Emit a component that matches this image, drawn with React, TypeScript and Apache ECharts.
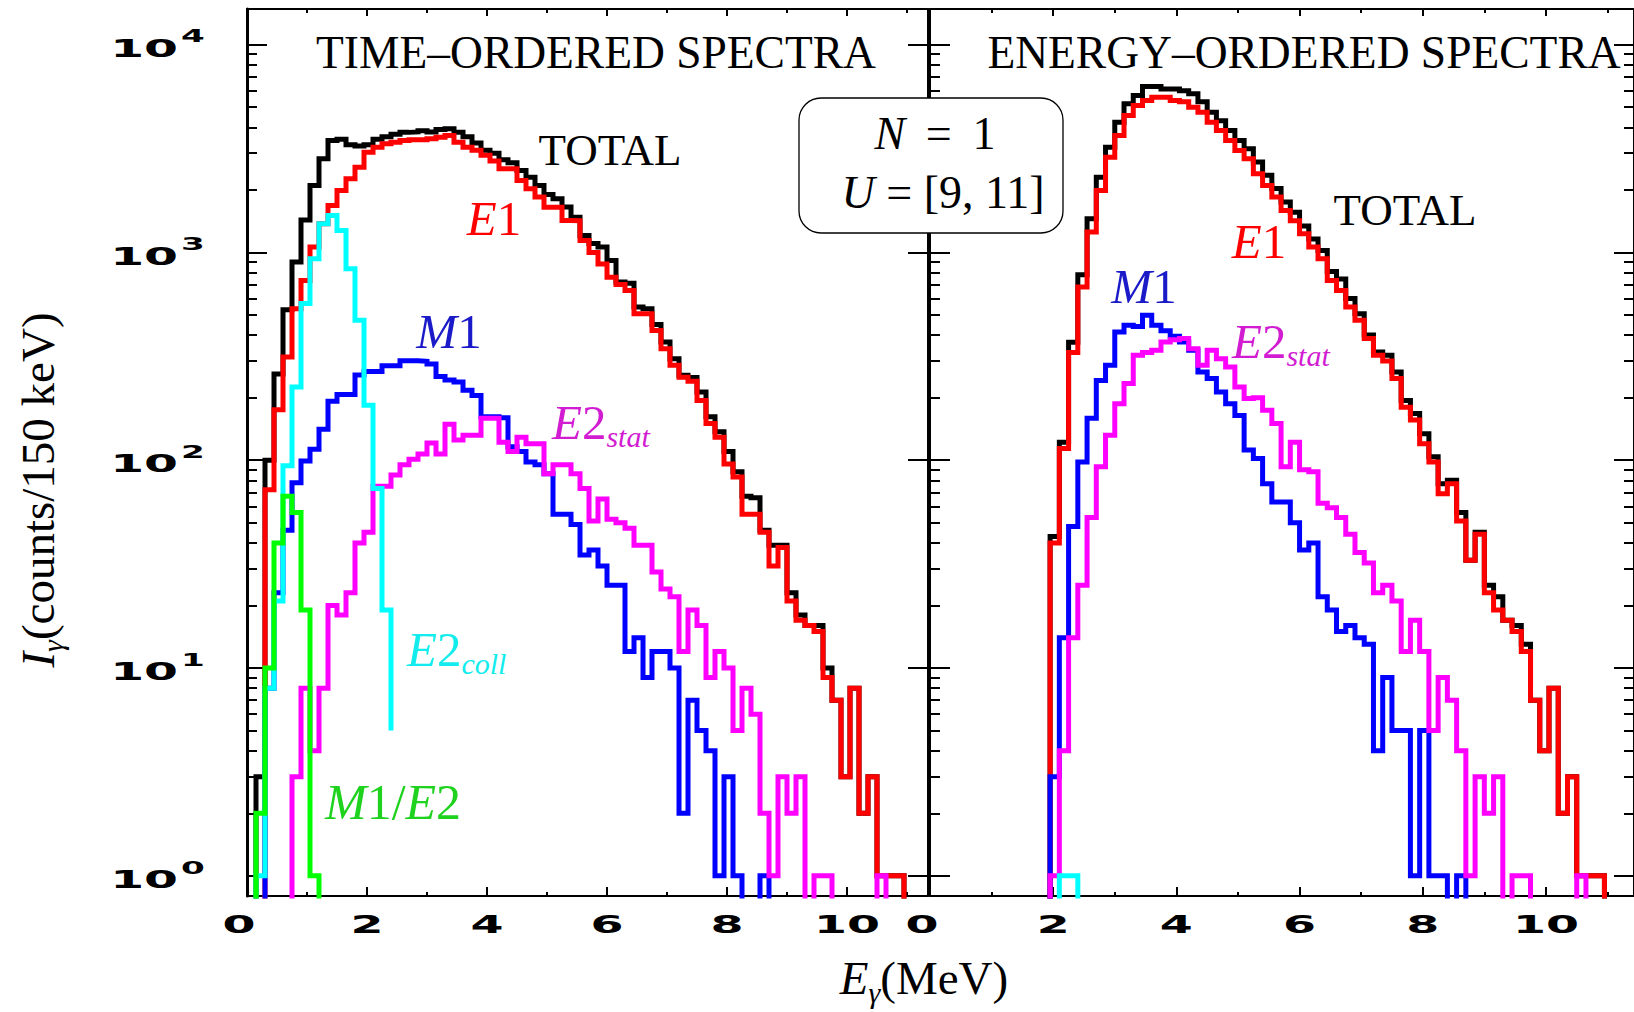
import React, { useEffect, useRef } from 'react';
import * as echarts from 'echarts';

// ---------- data (counts per 150 keV bin, bins start at 0 MeV) ----------
const BIN = 0.15;

const leftTotal = [0, 3, 100, 260, 530, 900, 1430, 2100, 2820, 3450, 3500, 3300, 3250, 3300, 3500, 3600, 3700, 3780, 3800, 3850, 3800, 3900, 3935, 3785, 3600, 3356, 3100, 3000, 2790, 2700, 2480, 2300, 2100, 1900, 1812, 1652, 1478, 1207, 1102, 1061, 915, 720, 710, 546, 536, 450, 371, 308, 256, 250, 213, 162, 137, 110, 88, 67, 66, 46, 39, 39, 23, 18, 16, 16, 10, 7, 3, 8, 2, 3, 1, 1, 1];
const leftE1 = [0, 0, 72, 175, 314, 536, 733, 1061, 1374, 1683, 1986, 2260, 2570, 3035, 3210, 3330, 3390, 3450, 3480, 3480, 3520, 3580, 3650, 3390, 3210, 3100, 2930, 2750, 2525, 2525, 2218, 2025, 1845, 1650, 1650, 1425, 1420, 1142, 1000, 880, 760, 700, 656, 507, 507, 421, 344, 286, 251, 240, 194, 150, 129, 96, 83, 55, 55, 45, 31, 38, 21, 17, 16, 15, 9, 7, 3, 8, 2, 3, 1, 1, 1];
const leftM1 = [0, 0, 8, 23, 46, 78, 99, 113, 141, 192, 207, 207, 257, 267, 267, 285, 285, 301, 301, 299, 290, 253, 243, 238, 217, 205, 162, 162, 160, 116, 110, 98, 95, 86, 55, 55, 49, 35, 37, 31, 25, 25, 12, 14, 9, 12, 12, 10, 2, 7, 5, 4, 1, 3, 1, 0, 0, 1];
const leftE2stat = [0, 0, 0, 0, 0, 3, 8, 4, 8, 20, 18, 23, 40, 45, 75, 75, 85, 95, 101, 107, 121, 107, 149, 125, 132, 132, 159, 159, 122, 110, 129, 120, 120, 86, 95, 95, 86, 73, 51, 65, 52, 50, 47, 39, 39, 29, 24, 22, 12, 19, 16, 9, 12, 10, 5, 8, 6, 2, 1, 3, 2, 3, 0, 1, 1, 0, 0, 0, 0, 0, 1];
const leftE2coll = [0, 1, 8, 21, 94, 225, 567, 933, 1374, 1506, 1276, 835, 471, 184, 73, 19];
const leftE2collEnd = 5;
const leftM1E2 = [0, 2, 10, 40, 67, 56, 19, 1];

const rightTotal = [0, 0, 0, 0, 0, 0, 0, 0, 0, 0, 0, 0, 0, 43, 122, 370, 780, 1452, 2300, 3209, 4230, 5190, 5690, 6280, 6280, 6120, 6120, 6000, 5800, 5300, 4720, 4300, 3860, 3455, 3150, 2720, 2350, 2030, 1750, 1560, 1340, 1160, 1020, 810, 745, 600, 506, 400, 332, 320, 266, 194, 168, 134, 104, 77, 80, 56, 33, 45, 25, 22, 17, 16, 13, 7, 4, 8, 2, 3, 1, 1, 1];
const rightE1 = [0, 0, 0, 0, 0, 0, 0, 0, 0, 0, 0, 0, 0, 40, 114, 330, 681, 1253, 1986, 2871, 3650, 4560, 5090, 5380, 5580, 5580, 5380, 5300, 4995, 4720, 4230, 3860, 3455, 3090, 2820, 2390, 2100, 1845, 1592, 1420, 1230, 1061, 933, 733, 656, 546, 471, 385, 320, 300, 247, 180, 156, 120, 98, 69, 77, 51, 33, 44, 23, 19, 17, 15, 12, 7, 4, 8, 2, 3, 1, 1, 1];
const rightM1 = [0, 0, 0, 0, 0, 0, 0, 0, 0, 0, 0, 0, 0, 3, 14, 48, 98, 159, 242, 286, 414, 446, 440, 498, 446, 420, 395, 371, 338, 266, 247, 213, 187, 164, 112, 102, 77, 63, 63, 50, 37, 40, 22, 19, 15, 16, 14, 13, 4, 9, 5, 5, 1, 5, 1, 1, 0, 1];
const rightE2stat = [0, 0, 0, 0, 0, 0, 0, 0, 0, 0, 0, 0, 0, 1, 4, 14, 25, 53, 93, 132, 187, 234, 320, 330, 338, 371, 380, 385, 344, 286, 338, 308, 281, 225, 198, 200, 174, 150, 93, 122, 90, 88, 62, 59, 53, 44, 36, 32, 23, 25, 21, 12, 17, 12, 5, 9, 7, 4, 1, 3, 2, 3, 0, 1, 1, 0, 0, 0, 0, 0, 1];
const rightE2coll = [0, 0, 0, 0, 0, 0, 0, 0, 0, 0, 0, 0, 0, 0, 1, 1];

const xMajor = [0, 2, 4, 6, 8, 10];
const xMinor = [1, 3, 5, 7, 9, 11];
const yMajor = [1, 10, 100, 1000, 10000];
const yMajorExp = ['0', '1', '2', '3', '4'];
const yMinor = [2, 3, 4, 5, 6, 7, 8, 9, 20, 30, 40, 50, 60, 70, 80, 90, 200, 300, 400, 500, 600, 700, 800, 900, 2000, 3000, 4000, 5000, 6000, 7000, 8000, 9000];

const Y_MIN = 0.8;
const Y_MAX = 14830;
const LEFT_XMAX = 11.35;
const RIGHT_XMAX = 11.43;

const C = {
  total: '#000000',
  e1: '#ff0000',
  m1: '#0000ff',
  e2stat: '#ff00ff',
  e2coll: '#00ffff',
  m1e2: '#00ff00',
};
const LBL = {
  m1: '#1a1ac8',
  e2stat: '#d21cd2',
  e2coll: '#12ecec',
  m1e2: '#1ed21e',
};

const SERIF = '"Liberation Serif", "Times New Roman", serif';
const SANS = '"DejaVu Sans", sans-serif';

function hist(values: number[], endValue?: number) {
  const FLOOR = 0.05;
  const pts: number[][] = values.map((v, i) => [+(i * BIN).toFixed(3), v > 0 ? v : FLOOR]);
  pts.push([+(values.length * BIN).toFixed(3), endValue && endValue > 0 ? endValue : FLOOR]);
  return pts;
}

function lineSeries(name: string, data: number[], color: string, panel: number, z: number, endValue?: number) {
  return {
    name,
    type: 'line',
    xAxisIndex: panel === 0 ? 0 : 4,
    yAxisIndex: panel === 0 ? 0 : 3,
    data: hist(data, endValue),
    step: 'end',
    showSymbol: false,
    symbol: 'none',
    silent: true,
    z,
    lineStyle: { color, width: 5, join: 'miter', cap: 'butt' },
    itemStyle: { color },
  };
}

function rich(color: string, size = 46) {
  return {
    i: { fontFamily: SERIF, fontStyle: 'italic', fontSize: size, lineHeight: 58, fill: color, color },
    n: { fontFamily: SERIF, fontSize: size, lineHeight: 58, fill: color, color },
    s: { fontFamily: SERIF, fontStyle: 'italic', fontSize: 30, lineHeight: 14, verticalAlign: 'bottom', fill: color, color },
  };
}

function label(text: string, x: number, y: number, color: string, align = 'center', rotation = 0, size = 46) {
  return {
    type: 'text',
    x,
    y,
    rotation,
    z: 110,
    silent: true,
    style: {
      text,
      rich: rich(color, size),
      fill: color,
      align,
      verticalAlign: 'middle',
      textAlign: align,
      textVerticalAlign: 'middle',
    },
  };
}

function xAxisDef(grid: number, max: number, position: string, ticks: number[], len: number, line: boolean) {
  return {
    type: 'value',
    gridIndex: grid,
    position,
    min: 0,
    max,
    axisLine: { show: line, onZero: false, lineStyle: { color: '#000', width: 2 } },
    axisTick: { show: true, inside: true, length: len, customValues: ticks, lineStyle: { color: '#000', width: 2 } },
    axisLabel: { show: false },
    splitLine: { show: false },
  };
}

function yAxisDef(grid: number, position: string, ticks: number[], len: number, line: boolean, lw = 2) {
  return {
    type: 'log',
    logBase: 10,
    gridIndex: grid,
    position,
    min: Y_MIN,
    max: Y_MAX,
    axisLine: { show: line, onZero: false, lineStyle: { color: '#000', width: lw } },
    axisTick: { show: true, inside: true, length: len, customValues: ticks, lineStyle: { color: '#000', width: 2 } },
    axisLabel: { show: false },
    splitLine: { show: false },
  };
}

export default function App() {
  const ref = useRef<HTMLDivElement>(null);

  useEffect(() => {
    if (!ref.current) return;
    const chart = echarts.init(ref.current, null, { renderer: 'svg' });
    const option: any = {
      animation: false,
      backgroundColor: '#ffffff',
      grid: [
        { left: 247, top: 9, width: 681, height: 887 },
        { left: 930, top: 9, width: 717, height: 887 },
      ],
      xAxis: [
        xAxisDef(0, LEFT_XMAX, 'bottom', xMajor, 9, true),
        xAxisDef(0, LEFT_XMAX, 'bottom', xMinor, 4, false),
        xAxisDef(0, LEFT_XMAX, 'top', xMajor, 7, true),
        xAxisDef(0, LEFT_XMAX, 'top', xMinor, 4, false),
        xAxisDef(1, RIGHT_XMAX, 'bottom', xMajor, 9, true),
        xAxisDef(1, RIGHT_XMAX, 'bottom', xMinor, 4, false),
        xAxisDef(1, RIGHT_XMAX, 'top', xMajor, 7, true),
        xAxisDef(1, RIGHT_XMAX, 'top', xMinor, 4, false),
      ],
      yAxis: [
        yAxisDef(0, 'left', yMajor, 20, true, 3),
        yAxisDef(0, 'left', yMinor, 10, false),
        yAxisDef(0, 'right', yMajor, 20, true),
        yAxisDef(1, 'left', yMajor, 20, true),
        yAxisDef(1, 'left', yMinor, 10, false),
        yAxisDef(1, 'right', yMajor, 20, true),
        yAxisDef(1, 'right', yMinor, 10, false),
      ],
      series: [
        lineSeries('TOTAL', leftTotal, C.total, 0, 2),
        lineSeries('E1', leftE1, C.e1, 0, 3),
        lineSeries('M1', leftM1, C.m1, 0, 4),
        lineSeries('E2stat', leftE2stat, C.e2stat, 0, 5),
        lineSeries('E2coll', leftE2coll, C.e2coll, 0, 6, leftE2collEnd),
        lineSeries('M1/E2', leftM1E2, C.m1e2, 0, 7),
        lineSeries('TOTAL ', rightTotal, C.total, 1, 2),
        lineSeries('E1 ', rightE1, C.e1, 1, 3),
        lineSeries('M1 ', rightM1, C.m1, 1, 4),
        lineSeries('E2stat ', rightE2stat, C.e2stat, 1, 5),
        lineSeries('E2coll ', rightE2coll, C.e2coll, 1, 6),
      ],
    };
    chart.setOption(option);

    const gfx: any[] = [];
    // x tick labels (wide font look)
    [0, 4].forEach((ax) => {
      xMajor.forEach((v) => {
        const px = (chart.convertToPixel({ xAxisIndex: ax }, v) as number) + (v === 0 ? -8 : 0);
        gfx.push({
          type: 'text', x: px, y: 924, scaleX: 1.9, z: 110, silent: true,
          style: { text: String(v), fontFamily: SANS, fontWeight: 'bold', fontSize: 25, fill: '#000', align: 'center', verticalAlign: 'middle', textAlign: 'center', textVerticalAlign: 'middle' },
        });
      });
    });
    // y tick labels 10^n
    yMajor.forEach((v, k) => {
      const py = chart.convertToPixel({ yAxisIndex: 0 }, v) as number;
      gfx.push({
        type: 'text', x: 178, y: py + 3.5, scaleX: 1.95, z: 110, silent: true,
        style: { text: '10', fontFamily: SANS, fontWeight: 'bold', fontSize: 25, fill: '#000', align: 'right', verticalAlign: 'middle', textAlign: 'right', textVerticalAlign: 'middle' },
      });
      gfx.push({
        type: 'text', x: 181, y: py - 8.5, scaleX: 1.9, z: 110, silent: true,
        style: { text: yMajorExp[k], fontFamily: SANS, fontWeight: 'bold', fontSize: 18, fill: '#000', align: 'left', verticalAlign: 'middle', textAlign: 'left', textVerticalAlign: 'middle' },
      });
    });

    // axis titles
    gfx.push(label('{i|I}{s|γ}{n|(counts/150 keV)}', 38, 490, '#000', 'center', Math.PI / 2, 47));
    gfx.push(label('{i|E}{s|γ}{n|(MeV)}', 924, 978, '#000', 'center', 0, 47));

    // panel titles
    gfx.push(label('{n|TIME–ORDERED SPECTRA}', 596, 52, '#000', 'center', 0, 45.5));
    gfx.push(label('{n|ENERGY–ORDERED SPECTRA}', 1304, 52, '#000', 'center', 0, 45.5));

    // curve labels, left
    gfx.push(label('{n|TOTAL}', 610, 150, '#000', 'center', 0, 45));
    gfx.push(label('{i|E}{n|1}', 494, 218, C.e1, 'center', 0, 49));
    gfx.push(label('{i|M}{n|1}', 449, 331, LBL.m1, 'center', 0, 49));
    gfx.push(label('{i|E}{n|2}{s|stat}', 552, 422, LBL.e2stat, 'left', 0, 49));
    gfx.push(label('{i|E}{n|2}{s|coll}', 407, 649, LBL.e2coll, 'left', 0, 49));
    gfx.push(label('{i|M}{n|1/}{i|E}{n|2}', 325, 802, LBL.m1e2, 'left', 0, 50));
    // curve labels, right
    gfx.push(label('{n|TOTAL}', 1405, 210, '#000', 'center', 0, 45));
    gfx.push(label('{i|E}{n|1}', 1259, 241, C.e1, 'center', 0, 49));
    gfx.push(label('{i|M}{n|1}', 1144, 286, LBL.m1, 'center', 0, 49));
    gfx.push(label('{i|E}{n|2}{s|stat}', 1232, 341, LBL.e2stat, 'left', 0, 49));

    // parameter box
    gfx.push({
      type: 'rect', z: 100, silent: true,
      shape: { x: 799, y: 98, width: 264, height: 135, r: 22 },
      style: { fill: '#ffffff', stroke: '#000000', lineWidth: 1.3 },
    });
    gfx.push(label('{i|N}{n| \u2009=\u2009 1}', 935, 133, '#000', 'center', 0, 46));
    gfx.push(label('{i|U}{n| = [9, 11]}', 943, 192, '#000', 'center', 0, 46));

    chart.setOption({ graphic: gfx });

    return () => chart.dispose();
  }, []);

  return (
    <div
      ref={ref}
      style={{ position: 'absolute', left: 0, top: 0, width: 1634, height: 1012, background: '#fff' }}
    />
  );
}
